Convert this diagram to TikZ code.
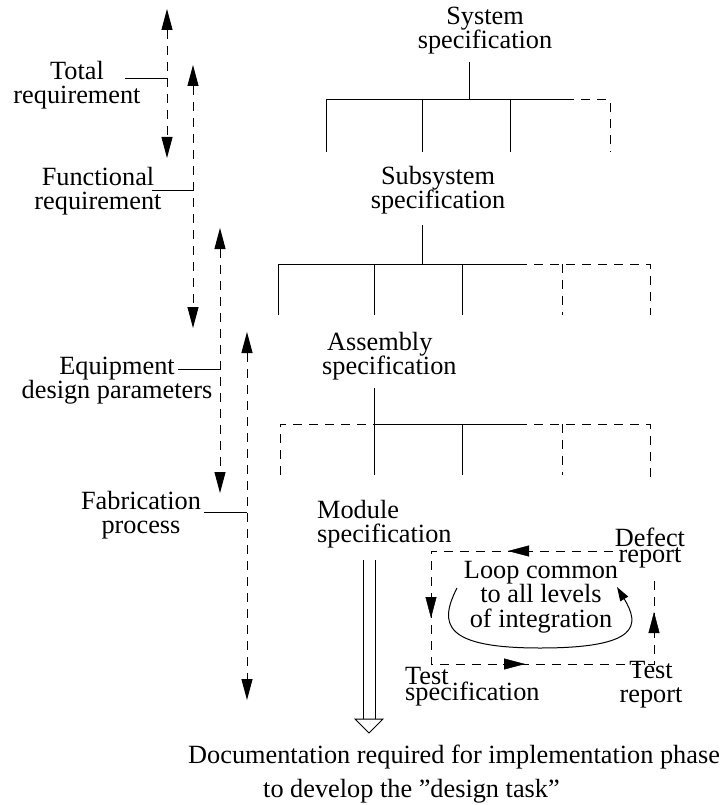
\documentclass[tikz,border=0pt]{standalone}
\usepackage{fontspec}
\setmainfont{Liberation Serif}
\usetikzlibrary{arrows.meta}
\newcommand\labelfont[1]{\fontsize{26.3}{#1}\selectfont\lineskiplimit -60pt\relax}
\begin{document}
\begin{tikzpicture}[x=1pt,y=-1pt,
  lbl/.style={inner sep=0pt, align=center, font={\labelfont{24}}},
  tight/.style={font={\labelfont{16}}},
  solidline/.style={line width=1pt},
  dashline/.style={line width=1pt, dash pattern=on 9pt off 7pt},
  head/.style={-{Triangle[length=21pt,width=11pt]}},
  heads/.style={{Triangle[length=21pt,width=11pt]}-{Triangle[length=21pt,width=11pt]}},
]
\fill[white] (0,0) rectangle (727,805);
\useasboundingbox (0,0) rectangle (727,805);

% ---- requirement levels (left) ----
\node[lbl] (total) at (77,85) {Total\\requirement};
\node[lbl] (func)  at (98,191.5) {Functional\\requirement};
\node[lbl] (equip) at (117,381) {Equipment\\design parameters};
\node[lbl] (fab)   at (141,515) {Fabrication\\process};

\coordinate (a1t) at (167,9);   \coordinate (a1b) at (167,158);
\coordinate (a2t) at (193,65);  \coordinate (a2b) at (193,328);
\coordinate (a3t) at (220,228); \coordinate (a3b) at (220,493);
\coordinate (a4t) at (247,332); \coordinate (a4b) at (247,700);

\draw[dashline,heads] (a1t) -- (a1b);
\draw[dashline,heads] (a2t) -- (a2b);
\draw[dashline,heads] (a3t) -- (a3b);
\draw[dashline,heads] (a4t) -- (a4b);

\coordinate (l1) at (125,79);
\coordinate (l2) at (152,190);
\coordinate (l3) at (178,369);
\coordinate (l4) at (204,512);
\draw[solidline] (l1) -- (l1 -| a1t);
\draw[solidline] (l2) -- (l2 -| a2t);
\draw[solidline] (l3) -- (l3 -| a3t);
\draw[solidline] (l4) -- (l4 -| a4t);

% ---- specification tree ----
\node[lbl] (sys) at (485,31) {System\\specification};
\node[lbl] (sub) at (438,190.5) {Subsystem\\specification};
\node[lbl, align=left, anchor=west] (asm) at (322,356.5) {\hspace*{5pt}Assembly\\specification};
\node[lbl, align=left, anchor=west] (mod) at (317,524) {Module\\specification};

% system level
\draw[solidline] (469,62) -- (469,100);
\draw[solidline] (326,152) -- (326,100) -- (565,100);
\draw[solidline] (422,100) -- (422,152);
\draw[solidline] (510,100) -- (510,152);
\draw[dashline] (565,100) -- (610,100) -- (610,152);

% subsystem level
\draw[solidline] (422,225) -- (422,264);
\draw[solidline] (278,315) -- (278,264) -- (518,264);
\draw[solidline] (374,264) -- (374,315);
\draw[solidline] (462,264) -- (462,315);
\draw[dashline] (518,264) -- (650,264) -- (650,315);
\draw[dashline] (562,264) -- (562,315);

% assembly level
\draw[solidline] (374,388) -- (374,475);
\draw[dashline] (280,475) -- (280,424) -- (374,424);
\draw[solidline] (374,424) -- (518,424);
\draw[solidline] (462,424) -- (462,475);
\draw[dashline] (518,424) -- (650,424) -- (650,477);
\draw[dashline] (562,424) -- (562,475);

% ---- test loop ----
\node[lbl, font={\labelfont{24.5}}] (loop) at (541,597) {Loop common\\to all levels\\of integration};
\node[lbl, tight] (defect) at (650,548) {Defect\\report};
\node[lbl, tight, align=left, anchor=west] (tspec) at (405,686.5) {Test\\specification};
\node[lbl] (trep) at (651,685) {Test\\report};

\coordinate (bxa) at (613,551);
\coordinate (bxb) at (431,551);
\coordinate (bxc) at (431,664);
\coordinate (bxd) at (654,664);
\coordinate (bxe) at (654,578);
\draw[dashline] (bxa) -- (bxb) -- (bxc) -- (bxd) -- (bxe);
\draw[head] (530,551) -- (508,551);
\draw[head] (431,597) -- (431,618);
\draw[head] (503,664) -- (525,664);
\draw[head] (654,633) -- (654,612);

\draw[solidline,-{Triangle[length=14pt,width=9pt]}]
  (457,588) .. controls (438,625) and (445,648) .. (540,648)
  .. controls (640,648) and (640,625) .. (617,587);

% ---- documentation output ----
\node[inner sep=0pt, anchor=base west, font={\labelfont{24}}] (doc1) at (188,763)
  {Documentation required for implementation phase};
\node[inner sep=0pt, anchor=base west, font={\labelfont{24}}] (doc2) at (263,797)
  {to develop the ”design task”};

\coordinate (hl) at (363,560);
\coordinate (hr) at (375,560);
\draw[solidline] (hl) -- (hl |- 0,719);
\draw[solidline] (hr) -- (hr |- 0,719);
\draw[solidline] (355,719) -- (383,719) -- (369,733) -- cycle;
\end{tikzpicture}
\end{document}
